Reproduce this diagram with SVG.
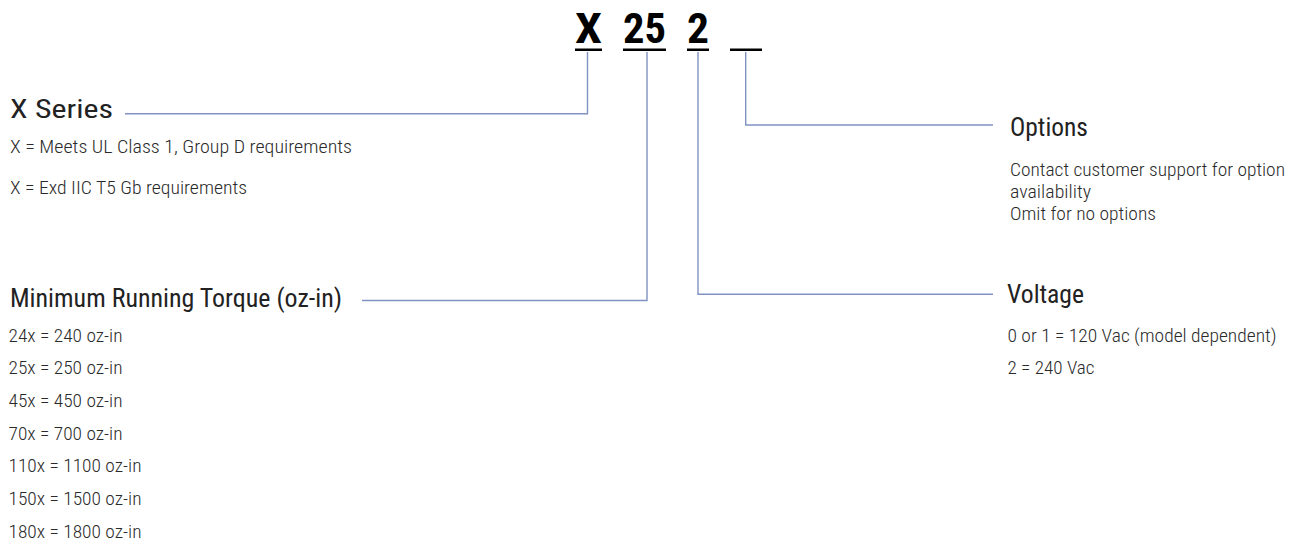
<svg xmlns="http://www.w3.org/2000/svg" width="1297" height="544" viewBox="0 0 1297 544">
<style>
text{font-family:"Liberation Sans Narrow","Roboto Condensed","Roboto","DejaVu Sans Condensed","Liberation Sans",Arial,sans-serif;fill:#2a2a2a;font-weight:300}
.code{font-size:43px;font-weight:bold;fill:#000}
.h{font-size:26px;font-weight:400;fill:#222}
.b{font-size:18px}
.ul{fill:#000}
.conn{fill:none;stroke:#7f92c2;stroke-width:1.4}
</style>
<rect width="1297" height="544" fill="#fff"/>
<g id="code">
<text class="code" x="575" y="43.3" textLength="27" lengthAdjust="spacingAndGlyphs">X</text>
<text class="code" x="623" y="43.3" textLength="43" lengthAdjust="spacingAndGlyphs">25</text>
<text class="code" x="687" y="43.3" textLength="22" lengthAdjust="spacingAndGlyphs">2</text>
<rect class="ul" x="575" y="48.5" width="27" height="2.5"/>
<rect class="ul" x="623" y="48.5" width="43" height="2.5"/>
<rect class="ul" x="687" y="48.5" width="22" height="2.5"/>
<rect class="ul" x="730" y="48.5" width="32" height="2.5"/>
</g>
<g id="connectors">
<path class="conn" d="M587.5 52 V113.8 H125"/>
<path class="conn" d="M647 52 V300.5 H362"/>
<path class="conn" d="M698 52 V294.3 H993"/>
<path class="conn" d="M745.7 52 V125 H993"/>
</g>
<g id="series">
<text class="h" x="10" y="118.3" textLength="103" lengthAdjust="spacingAndGlyphs">X Series</text>
<text class="b" x="10" y="153.3" textLength="342" lengthAdjust="spacingAndGlyphs">X = Meets UL Class 1, Group D requirements</text>
<text class="b" x="10" y="194.3" textLength="237" lengthAdjust="spacingAndGlyphs">X = Exd IIC T5 Gb requirements</text>
</g>
<g id="torque">
<text class="h" x="10" y="306.7" textLength="332" lengthAdjust="spacingAndGlyphs">Minimum Running Torque (oz-in)</text>
<text class="b" x="8.5" y="341.7" textLength="114" lengthAdjust="spacingAndGlyphs">24x = 240 oz-in</text>
<text class="b" x="8.5" y="374.3" textLength="114" lengthAdjust="spacingAndGlyphs">25x = 250 oz-in</text>
<text class="b" x="8.5" y="407" textLength="114" lengthAdjust="spacingAndGlyphs">45x = 450 oz-in</text>
<text class="b" x="8.5" y="439.7" textLength="114" lengthAdjust="spacingAndGlyphs">70x = 700 oz-in</text>
<text class="b" x="8.5" y="472.3" textLength="133" lengthAdjust="spacingAndGlyphs">110x = 1100 oz-in</text>
<text class="b" x="8.5" y="505" textLength="133" lengthAdjust="spacingAndGlyphs">150x = 1500 oz-in</text>
<text class="b" x="8.5" y="537.7" textLength="133" lengthAdjust="spacingAndGlyphs">180x = 1800 oz-in</text>
</g>
<g id="options">
<text class="h" x="1010" y="136" textLength="78" lengthAdjust="spacingAndGlyphs">Options</text>
<text class="b" x="1010" y="175.7" textLength="275" lengthAdjust="spacingAndGlyphs">Contact customer support for option</text>
<text class="b" x="1010" y="197.7" textLength="81" lengthAdjust="spacingAndGlyphs">availability</text>
<text class="b" x="1010" y="220" textLength="146" lengthAdjust="spacingAndGlyphs">Omit for no options</text>
</g>
<g id="voltage">
<text class="h" x="1007" y="302.7" textLength="77" lengthAdjust="spacingAndGlyphs">Voltage</text>
<text class="b" x="1007.5" y="341.7" textLength="269" lengthAdjust="spacingAndGlyphs">0 or 1 = 120 Vac (model dependent)</text>
<text class="b" x="1007.5" y="374.3" textLength="87" lengthAdjust="spacingAndGlyphs">2 = 240 Vac</text>
</g>
</svg>
